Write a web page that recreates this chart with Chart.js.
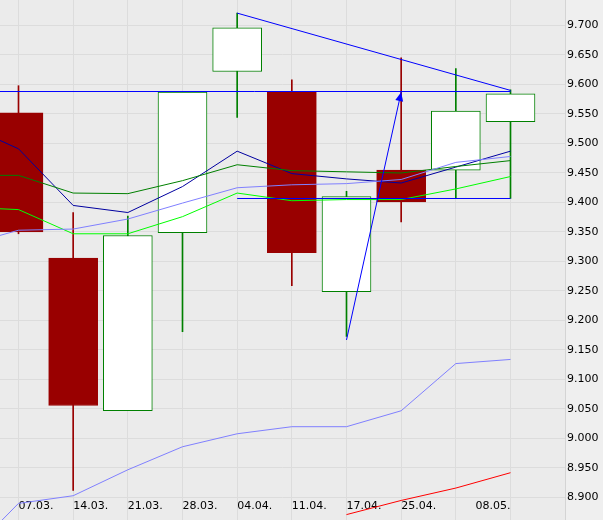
<!DOCTYPE html>
<html><head><meta charset="utf-8">
<script src="https://cdn.jsdelivr.net/npm/chart.js@4.4.0/dist/chart.umd.min.js"></script>
<style>html,body{margin:0;padding:0;background:#efefef;overflow:hidden}canvas{display:block}</style>
</head><body>
<canvas id="c" width="603" height="520"></canvas>
<script>
// weekly categories (the 9th week carries no printed label in the source)
const categories = ['07.03.','14.03.','21.03.','28.03.','04.04.','11.04.','17.04.','25.04.','','08.05.'];
// candles
const openVals  = [9.552, 9.306, 9.047, 9.349, 9.622, 9.588, 9.249, 9.455, 9.455, 9.537];
const highVals  = [9.598, 9.383, 9.377, 9.587, 9.721, 9.608, 9.419, 9.645, 9.627, 9.591];
const lowVals   = [9.347, 8.912, 9.047, 9.181, 9.544, 9.259, 9.173, 9.367, 9.407, 9.407];
const closeVals = [9.350, 9.056, 9.344, 9.587, 9.696, 9.315, 9.410, 9.401, 9.555, 9.584];
// indicator lines: first value belongs to the week before 07.03. (off the left edge)
const maDarkBlue  = [9.533, 9.491, 9.395, 9.383, 9.427, 9.487, 9.449, 9.440, 9.433, 9.460, 9.487];
const maDarkGreen = [9.446, 9.446, 9.416, 9.415, 9.437, 9.464, 9.454, 9.452, 9.450, 9.461, 9.471];
const maLime      = [9.392, 9.388, 9.347, 9.347, 9.376, 9.416, 9.403, 9.405, 9.405, 9.423, 9.444];
const bandUpper   = [9.327, 9.353, 9.355, 9.372, 9.399, 9.425, 9.430, 9.432, 9.439, 9.468, 9.478];
const bandLower   = [8.796, 8.890, 8.903, 8.947, 8.986, 9.008, 9.020, 9.020, 9.047, 9.127, 9.134];
const redTrend    = [null, null, null, null, null, null, null, 8.871, 8.895, 8.916, 8.942];
// drawn objects (week index, value)
const resistanceIdx = [-1, 9],  resistanceVal = [9.5881, 9.5881];
const supportIdx    = [4, 9],   supportVal    = [9.4068, 9.4068];
const trendIdx      = [4, 9],   trendVal      = [9.721, 9.590];
const arrowIdx      = [6, 7],   arrowVal      = [9.167, 9.587];
// axis ticks
const yTicks = [8.900, 8.950, 9.000, 9.050, 9.100, 9.150, 9.200, 9.250, 9.300, 9.350, 9.400, 9.450, 9.500, 9.550, 9.600, 9.650, 9.700];

const FONT = {family: 'DejaVu Sans', size: 11};
const lineSeries = (arr) => arr.map((v, i) => ({x: i - 1, y: v}));
const pairSeries = (xs, ys) => xs.map((x, i) => ({x: x, y: ys[i]}));
const isDown = categories.map((c, i) => closeVals[i] < openVals[i]);

function lineDs(data, color, order) {
  return {type: 'line', data, borderColor: color, borderWidth: 1, pointRadius: 0, tension: 0,
          fill: false, spanGaps: false, order, xAxisID: 'x', yAxisID: 'y'};
}

const X_MIN = -0.3384, X_MAX = 9.997;
const Y_MIN = 8.86186, Y_MAX = 9.74322;
const zeroPad = a => { a.paddingLeft = 0; a.paddingRight = 0; a.paddingTop = 0; a.paddingBottom = 0; };

const bg = {
  id: 'bg',
  beforeDraw(chart) {
    const {ctx, chartArea: a} = chart;
    ctx.save();
    ctx.fillStyle = '#efefef'; ctx.fillRect(0, 0, chart.width, chart.height);
    ctx.fillStyle = '#ebebeb'; ctx.fillRect(a.left, a.top, a.right - a.left, a.bottom - a.top);
    ctx.restore();
  }
};
let arrowDsIndex = -1;
const arrowHead = {
  id: 'arrowHead',
  afterDatasetsDraw(chart) {
    const meta = chart.getDatasetMeta(arrowDsIndex);
    const p0 = meta.data[0], p1 = meta.data[1];
    const ang = Math.atan2(p1.y - p0.y, p1.x - p0.x);
    const L = 9, W = 4;
    const ctx = chart.ctx;
    ctx.save();
    ctx.fillStyle = '#0000ff';
    ctx.beginPath();
    ctx.moveTo(p1.x, p1.y);
    ctx.lineTo(p1.x - L * Math.cos(ang) + W * Math.sin(ang), p1.y - L * Math.sin(ang) - W * Math.cos(ang));
    ctx.lineTo(p1.x - L * Math.cos(ang) - W * Math.sin(ang), p1.y - L * Math.sin(ang) + W * Math.cos(ang));
    ctx.closePath();
    ctx.fill();
    ctx.restore();
  }
};

const datasets = [
  {type: 'bar', label: 'wicks', data: categories.map((c, i) => ({x: i, y: [lowVals[i], highVals[i]]})),
   backgroundColor: isDown.map(d => d ? '#990000' : '#008000'), borderWidth: 0, barThickness: 1,
   grouped: false, order: 4, xAxisID: 'x', yAxisID: 'y'},
  {type: 'bar', label: 'bodies', data: categories.map((c, i) => ({x: i, y: [openVals[i], closeVals[i]]})),
   backgroundColor: isDown.map(d => d ? '#990000' : '#ffffff'),
   borderColor: isDown.map(d => d ? '#990000' : '#008000'), borderWidth: 1, borderSkipped: false,
   barThickness: 49, grouped: false, order: 3, xAxisID: 'x', yAxisID: 'y'},
  lineDs(lineSeries(bandUpper), '#8080ff', 2),
  lineDs(lineSeries(bandLower), '#8080ff', 2),
  lineDs(lineSeries(maLime), '#00ff00', 2),
  lineDs(lineSeries(maDarkGreen), '#008000', 2),
  lineDs(lineSeries(maDarkBlue), '#0000a0', 2),
  lineDs(lineSeries(redTrend), '#ff0000', 2),
  lineDs(pairSeries(resistanceIdx, resistanceVal), '#0000ff', 1),
  lineDs(pairSeries(supportIdx, supportVal), '#0000ff', 1),
  lineDs(pairSeries(trendIdx, trendVal), '#0000ff', 1),
  lineDs(pairSeries(arrowIdx, arrowVal), '#0000ff', 1)
];
arrowDsIndex = datasets.length - 1;

const xTickCommon = {autoSkip: false, mirror: true, padding: 7, color: '#000', font: FONT, maxRotation: 0, minRotation: 0};

new Chart(document.getElementById('c'), {
  type: 'bar',
  data: {datasets},
  plugins: [bg, arrowHead],
  options: {
    responsive: false, animation: false, devicePixelRatio: 1,
    layout: {padding: 0},
    plugins: {legend: {display: false}, tooltip: {enabled: false}},
    scales: {
      x: {
        type: 'linear', position: 'bottom', min: X_MIN, max: X_MAX, offset: false,
        grid: {color: '#dcdcdc', lineWidth: 1, drawTicks: false, offset: false},
        border: {display: false},
        afterBuildTicks: a => { a.ticks = categories.map((c, i) => ({value: i})); },
        afterFit: a => { a.height = 0; zeroPad(a); },
        ticks: Object.assign({}, xTickCommon, {align: 'start',
                callback: (v) => (v === categories.length - 1 ? '' : categories[v])})
      },
      x2: {
        type: 'linear', position: 'bottom', min: X_MIN, max: X_MAX, offset: false,
        grid: {display: false, drawTicks: false},
        border: {display: false},
        afterBuildTicks: a => { a.ticks = categories.map((c, i) => ({value: i})); },
        afterFit: a => { a.height = 0; zeroPad(a); },
        ticks: Object.assign({}, xTickCommon, {align: 'end',
                callback: (v) => (v === categories.length - 1 ? categories[v] : '')})
      },
      y: {
        type: 'linear', position: 'right', min: Y_MIN, max: Y_MAX, beginAtZero: false,
        grid: {color: '#dcdcdc', lineWidth: 1, drawTicks: false},
        border: {display: true, color: '#d4d4d4'},
        afterBuildTicks: a => { a.ticks = yTicks.map(v => ({value: v})); },
        afterFit: a => { a.width = 38; zeroPad(a); },
        ticks: {autoSkip: false, padding: 2, color: '#000', font: FONT,
                callback: (v) => v.toFixed(3)}
      }
    }
  }
});
</script>
</body></html>
